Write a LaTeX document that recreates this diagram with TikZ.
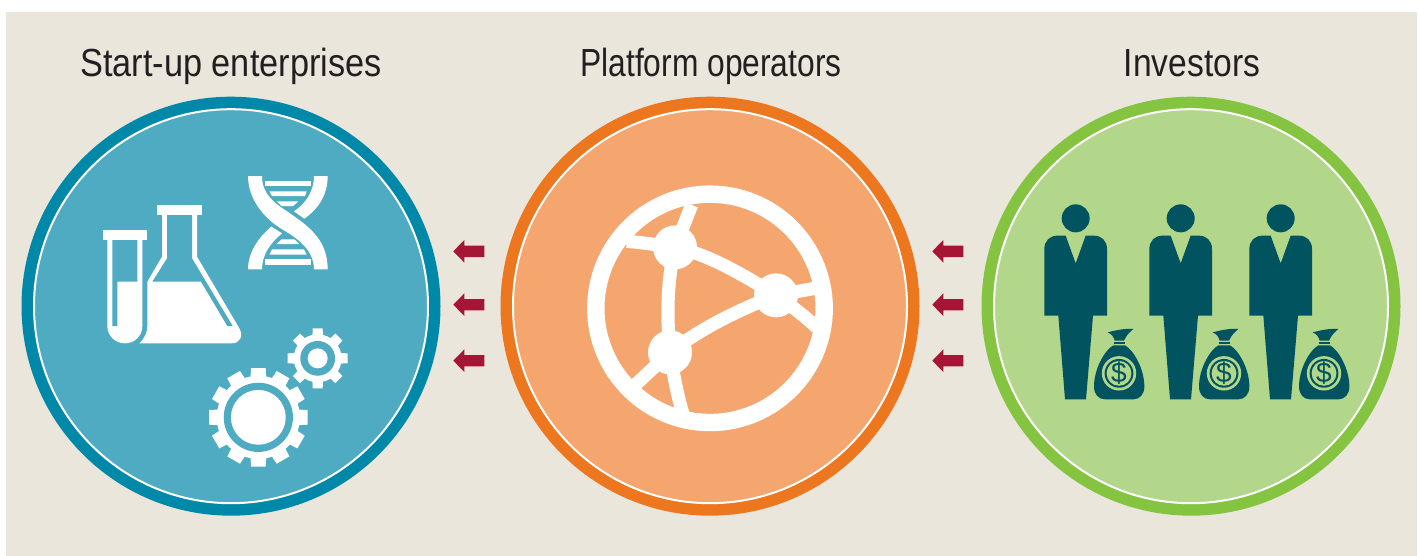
\documentclass[tikz,border=0pt]{standalone}
\usepackage{fontspec}
\setmainfont{Liberation Sans}
\definecolor{bgc}{HTML}{EAE6DC}
\definecolor{tealring}{HTML}{0088A8}
\definecolor{tealfill}{HTML}{4EABC2}
\definecolor{orangering}{HTML}{EC771E}
\definecolor{orangefill}{HTML}{F5A66F}
\definecolor{greenring}{HTML}{84C441}
\definecolor{greenfill}{HTML}{B2D68A}
\definecolor{darkteal}{HTML}{00535F}
\definecolor{arrowred}{HTML}{A51634}
\definecolor{titlec}{HTML}{231F20}
\tikzset{
  ringdisc/.style={circle,minimum size=209.5pt,inner sep=0pt,outer sep=0pt,fill=#1},
  innerdisc/.style={circle,minimum size=197pt,inner sep=0pt,outer sep=0pt,draw=white,line width=1pt,fill=#1},
  titletext/.style={anchor=base,text=titlec,font=\fontsize{19.6pt}{20pt}\selectfont},
  globeline/.style={draw=white,line width=6.6pt},
  zoomA/.style={shift={(90,160)},x=0.1666667pt,y=-0.1666667pt},
  zoomD/.style={shift={(240,170)},x=0.1666667pt,y=-0.1666667pt},
  zoomB/.style={shift={(570,170)},x=0.1666667pt,y=-0.1666667pt},
  zoomC/.style={shift={(1030,190)},x=0.1666667pt,y=-0.1666667pt},
  dollartext/.style={text=darkteal,inner sep=0pt,font=\fontsize{14pt}{14pt}\selectfont}
}
\newcommand{\redarrow}[2]{%
  \fill[arrowred] (#1,#2) -- (#1+11,#2-11.3) -- (#1+11,#2-5.7) -- (#1+31,#2-5.7)
    -- (#1+31,#2+5.7) -- (#1+11,#2+5.7) -- (#1+11,#2+11.3) -- cycle;}
\begin{document}
\begin{tikzpicture}[x=0.5pt,y=-0.5pt]
\useasboundingbox (0,0) rectangle (1419,556);
\fill[white] (0,0) rectangle (1419,556);
\fill[bgc] (6,12) rectangle (1417,556);

% Discs
\node[ringdisc=tealring] (c1o) at (231,306.2) {};
\node[innerdisc=tealfill] (c1i) at (c1o.center) {};
\node[ringdisc=orangering] (c2o) at (710,306.2) {};
\node[innerdisc=orangefill] (c2i) at (c2o.center) {};
\node[ringdisc=greenring] (c3o) at (1191,306.2) {};
\node[innerdisc=greenfill] (c3i) at (c3o.center) {};

% Titles
\node[titletext] (t1) at (231,77) {\scalebox{0.875}[1]{Start-up enterprises}};
\node[titletext] (t2) at (711,77) {\scalebox{0.81}[1]{Platform operators}};
\node[titletext] (t3) at (1192,77) {\scalebox{0.858}[1]{Investors}};

% Arrows
\foreach \ax in {453.3,932.3}{
  \foreach \ay in {251.3,304.7,360.7}{
    \redarrow{\ax}{\ay}
  }
}

% Lab icons
\begin{scope}[zoomA]
  % flask
  \fill[white] (201,135) rectangle (335,165);
  \fill[white] (216,160) -- (216,290) -- (172,365) -- (172,498)
     .. controls (172,518) and (162,538) .. (148,550) -- (425,550)
     .. controls (450,550) and (462,528) .. (447,503) -- (321,290) -- (321,160) -- cycle;
  \fill[tealfill] (231,165) -- (306,165) -- (306,295) -- (428,498) -- (412,498)
     -- (333,365) -- (187,365) -- (231,295) -- cycle;
  % tube
  \fill[white] (38,210) rectangle (172,240);
  \fill[white] (52,235) -- (52,498) .. controls (52,528) and (76,550) .. (105,550)
     .. controls (134,550) and (157,528) .. (157,498) -- (157,235) -- cycle;
  \fill[tealfill] (67,240) -- (142,240) -- (142,365) -- (82,365) -- (82,498) -- (67,498) -- cycle;
  % gears
  \begin{scope}[shift={(505,772)}]
    \foreach \a in {0,30,...,330}{
      \fill[white,rotate=\a] (-24,-110) -- (-22,-148) -- (22,-148) -- (24,-110) -- cycle;
    }
    \fill[white] (0,0) circle[radius=20.8pt];
    \fill[tealfill] (0,0) circle[radius=17.3pt];
    \fill[white] (0,0) circle[radius=13.7pt];
  \end{scope}
  \begin{scope}[shift={(683,595)}]
    \foreach \a in {0,45,...,315}{
      \fill[white,rotate=\a] (-16,-60) -- (-15,-90) -- (15,-90) -- (16,-60) -- cycle;
    }
    \fill[white] (0,0) circle[radius=12pt];
    \fill[tealfill] (0,0) circle[radius=8.7pt];
    \fill[white] (0,0) circle[radius=5pt];
  \end{scope}
\end{scope}

% DNA
\begin{scope}[zoomD]
  \fill[white] (24,18) -- (66,18) .. controls (66,75) and (105,100) .. (150,130)
     .. controls (215,175) and (263,215) .. (263,298) -- (222,298)
     .. controls (222,250) and (190,215) .. (130,180)
     .. controls (70,145) and (24,85) .. (24,18) -- cycle;
  \fill[white] (222,18) -- (263,18) .. controls (263,80) and (230,120) .. (193,146)
     -- (162,124) .. controls (197,100) and (222,65) .. (222,18) -- cycle;
  \fill[white] (24,298) -- (66,298) .. controls (66,255) and (90,220) .. (126,190)
     -- (94,170) .. controls (52,205) and (24,250) .. (24,298) -- cycle;
  \fill[white] (75,34) rectangle (213,47);
  \fill[white] (88,64) -- (200,64) -- (195,78) -- (96,78) -- cycle;
  \fill[white] (110,94) -- (175,94) -- (160,108) -- (125,108) -- cycle;
  \fill[white] (125,208) -- (163,208) -- (177,222) -- (110,222) -- cycle;
  \fill[white] (96,238) -- (192,238) -- (200,254) -- (88,254) -- cycle;
  \fill[white] (75,268) rectangle (213,284);
\end{scope}

% Globe
\begin{scope}[zoomB]
  \begin{scope}
    \clip (420,415) circle[radius=60pt];
    \draw[globeline] (365,105) -- (315,232);
    \draw[globeline] (170,214) .. controls (200,216) and (230,220) .. (315,232);
    \draw[globeline] (315,232) .. controls (400,250) and (490,295) .. (618,376);
    \draw[globeline] (315,232) .. controls (290,340) and (290,440) .. (300,547);
    \draw[globeline] (300,547) .. controls (380,485) and (480,430) .. (618,376);
    \draw[globeline] (618,376) -- (740,354);
    \draw[globeline] (618,376) .. controls (660,405) and (700,435) .. (740,472);
    \draw[globeline] (300,547) -- (190,650);
    \draw[globeline] (300,547) .. controls (310,610) and (320,670) .. (340,735);
  \end{scope}
  \draw[white,line width=8.7pt] (420,415) circle[radius=57.1pt];
  \fill[white] (315,232) circle[radius=11pt];
  \fill[white] (618,376) circle[radius=11pt];
  \fill[white] (300,547) circle[radius=11pt];
\end{scope}

% Investors
\begin{scope}[zoomC]
  \foreach \o [count=\i] in {0,315,615}{
    \begin{scope}[xshift=\o*0.1666667pt]
      \fill[darkteal] (137,85) circle[radius=7pt];
      \fill[darkteal] (43,377) -- (43,177) .. controls (43,152) and (60,137) .. (82,137)
        -- (107,137) -- (137,220) -- (167,137) -- (192,137)
        .. controls (214,137) and (231,152) .. (231,177) -- (231,377) -- (189,377)
        -- (168,628) -- (105,628) -- (85,377) -- cycle;
      % bag
      \fill[darkteal] (250,466) .. controls (225,480) and (192,535) .. (192,590)
        .. controls (192,612) and (205,628) .. (225,628) -- (310,628)
        .. controls (330,628) and (343,612) .. (343,590)
        .. controls (343,535) and (310,480) .. (285,466) -- cycle;
      \fill[darkteal] (252,455) rectangle (285,463);
      \fill[darkteal] (233,427) .. controls (260,420) and (285,415) .. (310,417)
        .. controls (300,425) and (288,437) .. (282,452) -- (254,452)
        .. controls (252,442) and (245,432) .. (233,427) -- cycle;
      \fill[greenfill] (267,550) circle[radius=8.6pt];
      \fill[darkteal] (267,550) circle[radius=7.2pt];
      \fill[greenfill] (267,550) circle[radius=6.2pt];
      \node[dollartext] (d\i) at (267,550) {\$};
    \end{scope}
  }
\end{scope}
\end{tikzpicture}
\end{document}
